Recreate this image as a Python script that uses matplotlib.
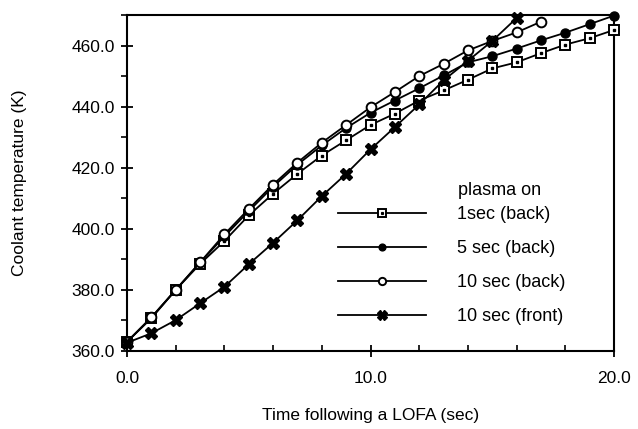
import numpy as np
import matplotlib.pyplot as plt
from matplotlib.ticker import MultipleLocator, FormatStrFormatter
from matplotlib.legend_handler import HandlerTuple

plt.rcParams['font.family'] = ['Liberation Sans', 'DejaVu Sans']

# time (sec) and coolant temperature (K)
t_1back = np.arange(0, 21)
T_1back = [363, 370.7, 380, 388.5, 396, 404.4, 411.5, 418, 424, 429, 434,
           437.7, 442, 445.3, 448.8, 452.5, 454.5, 457.5, 460.3, 462.4, 465.1]

t_5back = np.arange(0, 21)
T_5back = [363, 371, 380, 389, 397.5, 405.8, 413.8, 421, 427.3, 433, 438,
           442, 446, 450.2, 454.5, 456.5, 459, 461.7, 464.2, 467, 469.8]

t_10back = np.arange(0, 18)
T_10back = [363, 371, 380, 389, 398.2, 406.5, 414.5, 421.7, 428.2, 434, 439.8,
            444.8, 450, 454, 458.4, 461.5, 464.3, 467.8]

t_10front = np.arange(0, 17)
T_10front = [362.7, 365.8, 370.1, 375.6, 381, 388.4, 395.4, 402.8, 410.7, 418,
             426, 433.3, 440.7, 448.6, 455, 461.5, 469]

labels = ['1sec (back)', '5 sec (back)', '10 sec (back)', '10 sec (front)']

fig = plt.figure(figsize=(6.38, 4.29), dpi=100)
ax = fig.add_axes([127 / 638, 1 - 351 / 429, 487 / 638, 336 / 429])

lw = 1.3
l1, = ax.plot(t_1back, T_1back, color='k', lw=lw, marker='s', ms=7,
              mfc='white', mec='k', mew=1.4, clip_on=False, zorder=3)
d1, = ax.plot(t_1back, T_1back, ls='none', marker='s', ms=1.7, color='k',
              clip_on=False, zorder=3.1)
l2, = ax.plot(t_5back, T_5back, color='k', lw=lw, marker='o', ms=6.5,
              mfc='k', mec='k', clip_on=False, zorder=4)
l3, = ax.plot(t_10back, T_10back, color='k', lw=lw, marker='o', ms=7,
              mfc='white', mec='k', mew=1.4, clip_on=False, zorder=5)
l4, = ax.plot(t_10front, T_10front, color='k', lw=lw, marker='X', ms=9,
              mfc='k', mec='k', clip_on=False, zorder=6)

ax.set_xlim(0, 20)
ax.set_ylim(360, 470)
ax.xaxis.set_major_locator(MultipleLocator(10))
ax.xaxis.set_minor_locator(MultipleLocator(2))
ax.yaxis.set_major_locator(MultipleLocator(20))
ax.yaxis.set_minor_locator(MultipleLocator(10))
ax.xaxis.set_major_formatter(FormatStrFormatter('%.1f'))
ax.yaxis.set_major_formatter(FormatStrFormatter('%.1f'))
ax.tick_params(axis='x', which='major', direction='inout', length=9, width=1.3,
               labelsize=12.5, pad=10)
ax.tick_params(axis='x', which='minor', direction='in', length=4, width=1.2)
ax.tick_params(axis='y', which='major', direction='inout', length=9, width=1.3,
               labelsize=12.5, pad=4)
ax.tick_params(axis='y', which='minor', direction='out', length=4, width=1.2)
for s in ax.spines.values():
    s.set_linewidth(1.5)

ax.set_xlabel('Time following a LOFA (sec)', fontsize=12.5, labelpad=16)
ax.set_ylabel('Coolant temperature (K)', fontsize=12.5, labelpad=32)

ax.text(0.68, 0.479, 'plasma on', transform=ax.transAxes, fontsize=13,
        ha='left', va='center')
ax.legend([(l1, d1), l2, l3, l4], labels,
          handler_map={tuple: HandlerTuple(ndivide=1, pad=0)},
          loc='upper left', bbox_to_anchor=(0.433, 0.432), frameon=False,
          fontsize=13, handlelength=4.9, handletextpad=1.7, labelspacing=0.95,
          borderpad=0, borderaxespad=0, markerscale=0.75)

fig.savefig('out.png', dpi=100)
